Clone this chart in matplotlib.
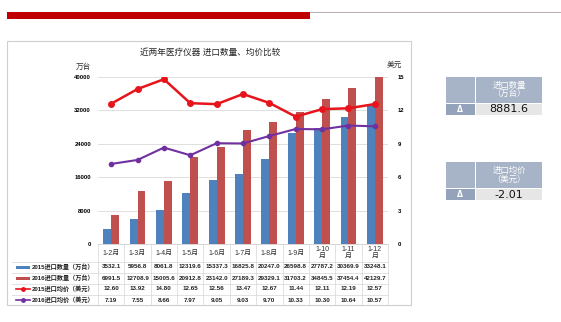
import matplotlib.pyplot as plt
import matplotlib.transforms as mtransforms
from matplotlib.patches import Rectangle
from matplotlib.lines import Line2D
import numpy as np

plt.rcParams['font.family'] = ['Liberation Sans', 'Noto Sans CJK SC', 'DejaVu Sans']

# data
months = ['1-2月', '1-3月', '1-4月', '1-5月', '1-6月', '1-7月', '1-8月', '1-9月',
          '1-10\n月', '1-11\n月', '1-12\n月']
qty_2015 = [3532.1, 5956.8, 8061.8, 12319.6, 15337.3, 16825.8, 20247.0, 26598.8,
            27787.2, 30369.9, 33248.1]
qty_2016 = [6991.5, 12708.9, 15005.6, 20912.8, 23142.0, 27189.3, 29329.1, 31703.2,
            34845.5, 37454.4, 42129.7]
price_2015 = [12.60, 13.92, 14.80, 12.65, 12.56, 13.47, 12.67, 11.44, 12.11, 12.19, 12.57]
price_2016 = [7.19, 7.55, 8.66, 7.97, 9.05, 9.03, 9.70, 10.33, 10.30, 10.64, 10.57]
row_labels = ['2015进口数量（万台）', '2016进口数量（万台）',
              '2015进口均价（美元）', '2016进口均价（美元）']
delta_qty = '8881.6'
delta_price = '-2.01'

W, H = 561, 322
BLUE = '#4f81bd'
RED = '#c0504d'
LRED = '#e8141c'
PURPLE = '#7030a0'


def fx(px):
    return px / W


def fy(py):
    return 1 - py / H


fig = plt.figure(figsize=(W / 100, H / 100), dpi=100)

# header band
fig.add_artist(Rectangle((fx(7), fy(19)), fx(303), 7.3 / H, color='#c00000', lw=0))
fig.add_artist(Line2D([fx(310), 1], [fy(12), fy(12)], color='#b0a0a0', lw=0.6))

# chart frame
fig.add_artist(Rectangle((fx(7), fy(305)), fx(404), (305 - 41) / H, fill=False,
                         ec='#cfcfcf', lw=0.8))
fig.text(fx(210), fy(52), '近两年医疗仪器 进口数量、均价比较', ha='center', va='center',
         fontsize=6.2, color='#222222')

# plot area
ax = fig.add_axes([fx(98), fy(244), fx(290), (244 - 77) / H])
x = np.arange(len(months))
bw = 0.3
ax.bar(x - bw / 2, qty_2015, bw, color=BLUE, zorder=2)
ax.bar(x + bw / 2, qty_2016, bw, color=RED, zorder=2)
ax.set_xlim(-0.5, len(months) - 0.5)
ax.set_ylim(0, 40000)
ax.set_yticks(np.arange(0, 40001, 8000))
ax.yaxis.grid(True, color='#d9d9d9', lw=0.6, zorder=0)
ax.set_axisbelow(True)
ax.set_xticks([])
ax.tick_params(axis='y', length=0, pad=5, labelsize=4.2)
for lb in ax.get_yticklabels():
    lb.set_fontweight('bold')
for s in ['top', 'right', 'left']:
    ax.spines[s].set_visible(False)
ax.spines['bottom'].set_color('#d0d0d0')
ax.spines['bottom'].set_linewidth(0.6)

ax2 = ax.twinx()
ax2.plot(x, price_2015, color=LRED, lw=1.8, marker='o', ms=4, zorder=4)
ax2.plot(x, price_2016, color=PURPLE, lw=1.5, marker='o', ms=3, zorder=4)
ax2.set_ylim(0, 15)
ax2.set_yticks(np.arange(0, 16, 3))
ax2.tick_params(axis='y', length=0, pad=7, labelsize=4.2)
for lb in ax2.get_yticklabels():
    lb.set_fontweight('bold')
for s in ax2.spines.values():
    s.set_visible(False)

fig.text(fx(83), fy(67), '万台', ha='center', va='center', fontsize=5.5, color='#333333')
fig.text(fx(394), fy(65), '美元', ha='center', va='center', fontsize=5.5, color='#333333')

# data table below the plot
tr = mtransforms.blended_transform_factory(ax.transData, fig.transFigure)
row_lines = [262, 272.5, 283.5, 294.5, 305]
for yl in row_lines[:-1]:
    fig.add_artist(Line2D([fx(12), fx(388)], [fy(yl), fy(yl)], color='#d6d6d6', lw=0.5))
for b in np.arange(len(months) + 1) - 0.5:
    ax.add_artist(Line2D([b, b], [fy(244), fy(305)], transform=tr, color='#d6d6d6',
                         lw=0.5, clip_on=False))

for i, m in enumerate(months):
    fig.text(x[i], fy(253), m, transform=tr, ha='center', va='center', fontsize=5,
             color='#333333', linespacing=1.1)

rows = [qty_2015, qty_2016, price_2015, price_2016]
fmts = ['{:.1f}', '{:.1f}', '{:.2f}', '{:.2f}']
row_cy = [267, 278, 289, 300]
for r, vals in enumerate(rows):
    for i, v in enumerate(vals):
        fig.text(x[i], fy(row_cy[r]), fmts[r].format(v), transform=tr, ha='center',
                 va='center', fontsize=4.5, fontweight='bold', color='#222222')
    fig.text(fx(94), fy(row_cy[r]), row_labels[r], ha='right', va='center',
             fontsize=4.45, fontweight='bold', color='#222222')

# legend keys in the table
fig.add_artist(Rectangle((fx(16), fy(268.5)), fx(14), 3 / H, color=BLUE, lw=0))
fig.add_artist(Rectangle((fx(16), fy(279.5)), fx(14), 3 / H, color=RED, lw=0))
fig.add_artist(Line2D([fx(16), fx(23), fx(30)], [fy(289)] * 3, color=LRED, lw=1.2,
                      marker='o', ms=2.5, markevery=[1]))
fig.add_artist(Line2D([fx(16), fx(23), fx(30)], [fy(300)] * 3, color=PURPLE, lw=1.2,
                      marker='o', ms=2.5, markevery=[1]))

# difference panels on the right
HEAD = '#a7b3c6'
DARK = '#94a3ba'
LIGHT = '#e6e6e6'


def panel(top, title, value):
    fig.add_artist(Rectangle((fx(446), fy(top + 26)), fx(29), 26 / H, color=HEAD, lw=0))
    fig.add_artist(Rectangle((fx(476), fy(top + 26)), fx(66), 26 / H, color=HEAD, lw=0))
    fig.add_artist(Rectangle((fx(446), fy(top + 38)), fx(29), 11 / H, color=DARK, lw=0))
    fig.add_artist(Rectangle((fx(476), fy(top + 38)), fx(66), 11 / H, color=LIGHT, lw=0))
    fig.text(fx(509), fy(top + 13), title, ha='center', va='center', fontsize=6,
             color='white', linespacing=1.05)
    fig.text(fx(460), fy(top + 32.5), 'Δ', ha='center', va='center', fontsize=5.5,
             color='white', fontweight='bold', family='DejaVu Sans')
    fig.text(fx(509), fy(top + 32.5), value, ha='center', va='center', fontsize=8,
             color='#111111', family='DejaVu Sans')


panel(77, '进口数量\n（万台）', delta_qty)
panel(162, '进口均价\n（美元）', delta_price)

fig.savefig('out.png', dpi=100)
